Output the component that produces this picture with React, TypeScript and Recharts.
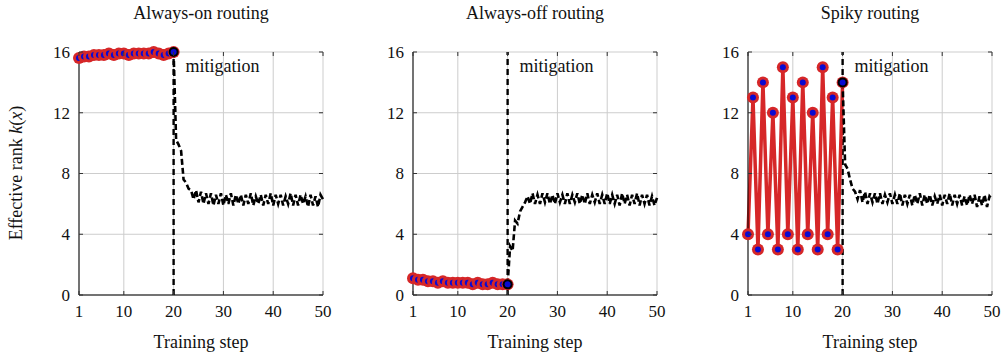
import React from "react";
import { LineChart, Line, XAxis, YAxis, CartesianGrid, ReferenceLine } from "recharts";

const steps = [1, 2, 3, 4, 5, 6, 7, 8, 9, 10, 11, 12, 13, 14, 15, 16, 17, 18, 19, 20];
const alwaysOnPre = [15.6, 15.7, 15.7, 15.8, 15.8, 15.8, 15.9, 15.8, 15.9, 15.9, 15.8, 15.9, 15.9, 15.9, 15.9, 16.0, 15.9, 15.8, 15.9, 16.0];
const alwaysOffPre = [1.1, 1.0, 1.0, 0.9, 0.9, 0.8, 0.9, 0.8, 0.8, 0.8, 0.8, 0.8, 0.7, 0.8, 0.7, 0.7, 0.8, 0.7, 0.7, 0.7];
const spikyPre = [4, 13, 3, 14, 4, 12, 3, 15, 4, 13, 3, 14, 4, 12, 3, 15, 4, 13, 3, 14];

const postSteps = [
  20, 20.5, 21, 21.5, 22, 22.5, 23, 23.5, 24, 24.5, 25, 25.5, 26, 26.5, 27, 27.5, 28, 28.5, 29, 29.5,
  30, 30.5, 31, 31.5, 32, 32.5, 33, 33.5, 34, 34.5, 35, 35.5, 36, 36.5, 37, 37.5, 38, 38.5, 39, 39.5,
  40, 40.5, 41, 41.5, 42, 42.5, 43, 43.5, 44, 44.5, 45, 45.5, 46, 46.5, 47, 47.5, 48, 48.5, 49, 49.5, 50,
];
const alwaysOnPost = [
  16.0, 10.2, 9.9, 9.5, 7.6, 7.4, 7.0, 6.9, 6.3, 6.9,
  6.1, 6.8, 6.0, 6.7, 6.0, 6.7, 5.9, 6.6, 6.0, 6.7,
  5.9, 6.6, 6.0, 6.7, 5.9, 6.6, 6.0, 6.6, 5.9, 6.6,
  6.0, 6.7, 5.9, 6.5, 6.0, 6.6, 5.9, 6.6, 6.0, 6.7,
  5.9, 6.6, 6.0, 6.6, 5.9, 6.5, 6.0, 6.7, 5.9, 6.6,
  5.9, 6.6, 6.0, 6.5, 5.8, 6.6, 5.9, 6.5, 5.8, 6.6, 6.3,
];
const alwaysOffPost = [
  0.7, 3.2, 2.9, 4.9, 4.7, 5.5, 5.8, 6.1, 6.5, 6.0,
  6.7, 6.0, 6.6, 6.0, 6.7, 6.1, 6.7, 6.0, 6.6, 6.0,
  6.7, 6.1, 6.6, 6.0, 6.7, 6.0, 6.6, 6.1, 6.7, 6.0,
  6.6, 6.0, 6.7, 6.0, 6.6, 6.1, 6.7, 6.0, 6.6, 6.0,
  6.7, 6.0, 6.6, 6.0, 6.6, 5.9, 6.7, 6.0, 6.6, 5.9,
  6.6, 6.0, 6.7, 5.9, 6.6, 6.0, 6.6, 5.9, 6.5, 5.9, 6.4,
];
const spikyPost = [
  14.0, 8.6, 8.3, 7.6, 7.0, 6.8, 6.3, 6.9, 6.1, 6.8,
  6.0, 6.7, 6.1, 6.7, 6.0, 6.7, 6.0, 6.6, 6.1, 6.7,
  6.0, 6.6, 6.0, 6.7, 5.9, 6.6, 6.0, 6.6, 5.9, 6.6,
  6.0, 6.7, 5.9, 6.6, 6.0, 6.6, 5.9, 6.5, 6.0, 6.6,
  5.9, 6.6, 6.0, 6.7, 5.9, 6.6, 6.0, 6.6, 5.9, 6.5,
  5.9, 6.6, 6.0, 6.6, 5.8, 6.5, 5.9, 6.6, 5.8, 6.5, 6.3,
];

const xTicks = [1, 10, 20, 30, 40, 50];
const yTicks = [0, 4, 8, 12, 16];

const RED = "#d62728";
const BLUE = "#0a0ad2";
const FONT = "'Liberation Serif', 'DejaVu Serif', serif";
const TXT = { fontFamily: FONT, fill: "#111" };

// plot box inside each chart (px)
const W = 333;
const H = 356;
const TOP = 52;
const BOTTOM = 295;
const LEFT = 79;
const RIGHT = 323;

const XTick = ({ x, y, payload }: any) => (
  <g>
    <text x={x} y={y} dy="0.71em" textAnchor="middle" style={{ ...TXT, fontSize: 17 }}>
      {payload.value}
    </text>
    <line x1={x} x2={x} y1={BOTTOM} y2={BOTTOM - 4} stroke="#333" />
    <line x1={x} x2={x} y1={TOP} y2={TOP + 4} stroke="#333" />
  </g>
);

const YTick = ({ x, y, payload }: any) => (
  <g>
    <text x={x} y={y} dy="0.35em" textAnchor="end" style={{ ...TXT, fontSize: 17 }}>
      {payload.value}
    </text>
    <line x1={LEFT} x2={LEFT + 4} y1={y} y2={y} stroke="#333" />
    <line x1={RIGHT} x2={RIGHT - 4} y1={y} y2={y} stroke="#333" />
  </g>
);

const Marker = (props: any) => (
  <g key={`m-${props.index}`}>
    <circle cx={props.cx} cy={props.cy} r={6} fill={RED} />
    <circle cx={props.cx} cy={props.cy} r={3} fill={BLUE} />
  </g>
);

const StartDot = (props: any) =>
  props.index === 0 ? (
    <g key={`s-${props.index}`}>
      <circle cx={props.cx} cy={props.cy} r={5} fill="#000" />
      <circle cx={props.cx} cy={props.cy} r={3} fill={BLUE} />
    </g>
  ) : (
    <g key={`s-${props.index}`} />
  );

const MitigationLabel = ({ viewBox }: any) => (
  <text x={viewBox.x + 12} y={viewBox.y + 20} style={{ ...TXT, fontSize: 18 }}>
    mitigation
  </text>
);

const YLabel = () => (
  <text
    x={16}
    y={173}
    transform="rotate(-90, 16, 173)"
    textAnchor="middle"
    dominantBaseline="central"
    style={{ ...TXT, fontSize: 18 }}
  >
    Effective rank <tspan fontStyle="italic">k</tspan>(<tspan fontStyle="italic">x</tspan>)
  </text>
);

const Panel = ({
  title,
  pre,
  post,
  left,
  showYLabel,
}: {
  title: string;
  pre: number[];
  post: number[];
  left: number;
  showYLabel: boolean;
}) => {
  const preData = steps.map((s, i) => ({ step: s, value: pre[i] }));
  const postData = postSteps.map((s, i) => ({ step: s, value: post[i] }));

  return (
    <div style={{ position: "absolute", left, top: 0, width: W, height: H }}>
      <div
        style={{
          position: "absolute",
          left: LEFT,
          width: RIGHT - LEFT,
          top: 3,
          textAlign: "center",
          fontFamily: FONT,
          fontSize: 18,
          color: "#111",
        }}
      >
        {title}
      </div>
      <LineChart width={W} height={H} margin={{ top: TOP, right: W - RIGHT, bottom: 0, left: 0 }}>
        <CartesianGrid stroke="#cdcdcd" strokeWidth={1} />
        <XAxis
          dataKey="step"
          type="number"
          domain={[1, 50]}
          ticks={xTicks}
          height={H - BOTTOM}
          tickSize={0}
          tickMargin={10}
          tick={<XTick />}
          axisLine={{ stroke: "#000" }}
          tickLine={false}
          label={{
            value: "Training step",
            position: "insideBottom",
            offset: 8,
            style: { ...TXT, fontSize: 18 },
          }}
        />
        <XAxis xAxisId="top" orientation="top" type="number" domain={[1, 50]} height={0} tick={false} tickLine={false} axisLine={{ stroke: "#000" }} />
        <YAxis
          type="number"
          domain={[0, 16]}
          ticks={yTicks}
          width={LEFT}
          tickSize={0}
          tickMargin={9}
          tick={<YTick />}
          axisLine={{ stroke: "#000" }}
          tickLine={false}
          label={showYLabel ? { content: <YLabel /> } : undefined}
        />
        <YAxis yAxisId="right" orientation="right" type="number" domain={[0, 16]} width={0} tick={false} tickLine={false} axisLine={{ stroke: "#000" }} />
        <ReferenceLine
          x={20}
          stroke="#000"
          strokeWidth={2.4}
          strokeDasharray="6 4"
          label={{ content: <MitigationLabel /> }}
        />
        <Line
          data={preData}
          dataKey="value"
          type="linear"
          stroke={RED}
          strokeWidth={3.5}
          dot={Marker}
          activeDot={false}
          isAnimationActive={false}
        />
        <Line
          data={postData}
          dataKey="value"
          type="linear"
          stroke="#000"
          strokeWidth={2.6}
          strokeDasharray="6 3"
          dot={StartDot}
          activeDot={false}
          isAnimationActive={false}
        />
      </LineChart>
    </div>
  );
}

export default function App() {
  return (
    <div style={{ position: "absolute", left: 0, top: 0, width: 1001, height: 356, background: "#fff" }}>
      <Panel title="Always-on routing" pre={alwaysOnPre} post={alwaysOnPost} left={0} showYLabel />
      <Panel title="Always-off routing" pre={alwaysOffPre} post={alwaysOffPost} left={334} showYLabel={false} />
      <Panel title="Spiky routing" pre={spikyPre} post={spikyPost} left={669} showYLabel={false} />
    </div>
  );
}
